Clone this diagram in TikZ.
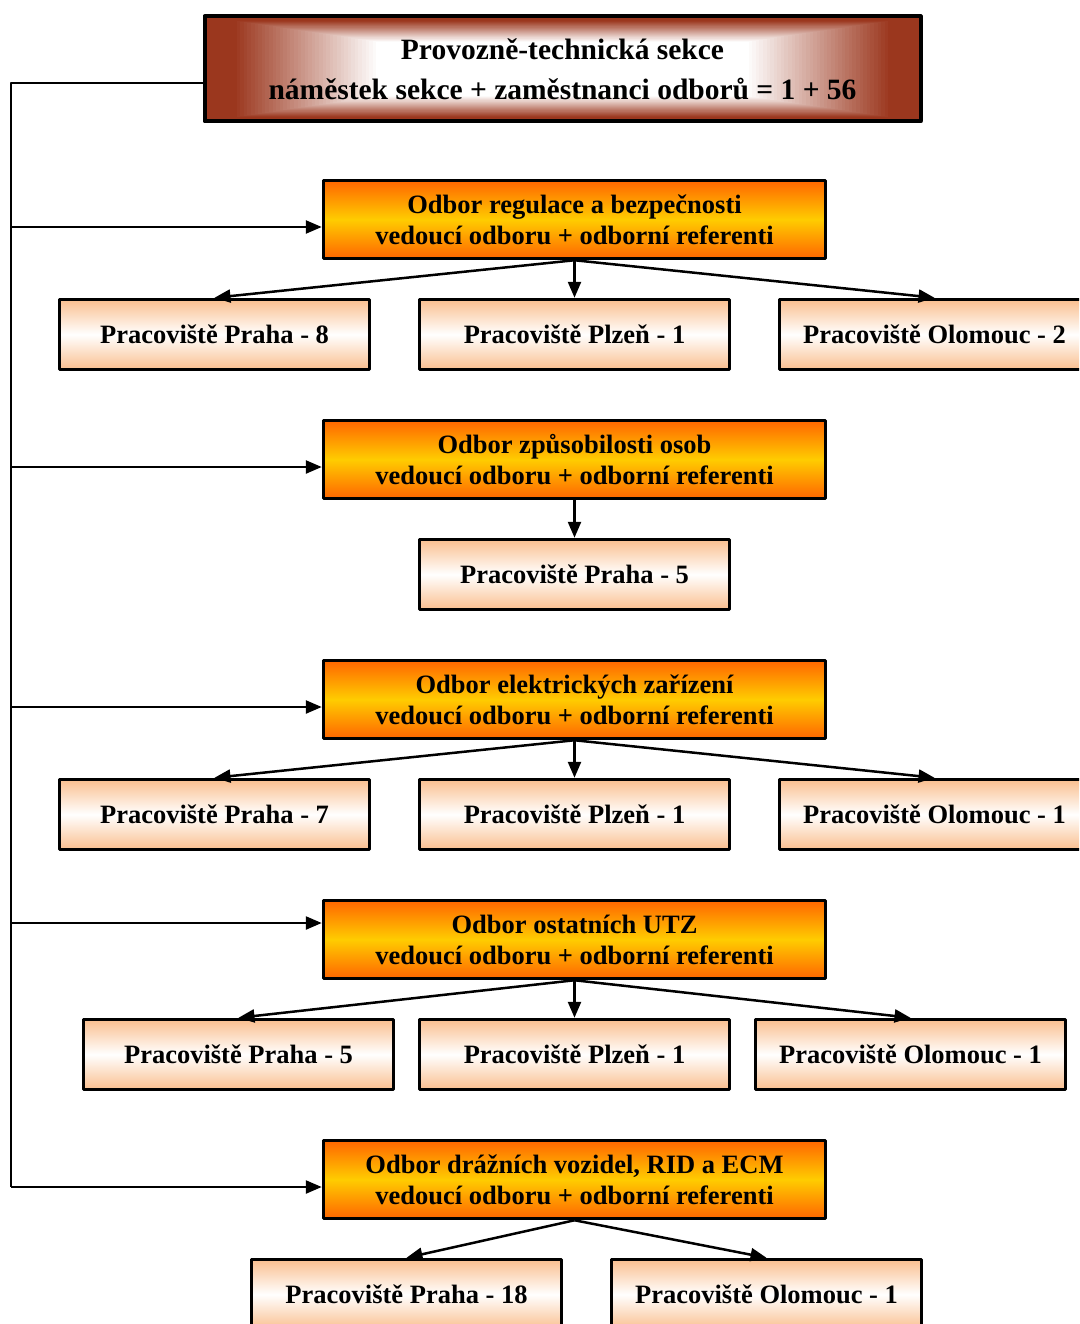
\documentclass[tikz,border=0pt]{standalone}
\usepackage{fontspec}
\setmainfont{Liberation Serif}
\usetikzlibrary{arrows.meta,calc}
\definecolor{hneda}{RGB}{155,55,30}
\definecolor{oranz}{RGB}{255,102,0}
\definecolor{zluta}{RGB}{255,204,0}
\definecolor{broskev}{RGB}{250,191,143}
\begin{document}
\begin{tikzpicture}[x=1pt, y=-1pt, line join=round, >={Triangle[length=16pt,width=13pt]}, font=\bfseries\fontsize{26.5}{31}\selectfont]
	\tikzset{sekce/.style={draw, line width=4pt, fill=white, minimum width=716pt, minimum height=105pt, align=center, font=\bfseries\fontsize{29.5}{31}\selectfont,
			% prechod od stredu k okrajum
			path picture={\foreach \i in {0,...,50}{
					\pgfmathsetmacro\t{1-\i/100}
					\pgfmathsetmacro\s{100*min(1,max(0,(\t-0.52)/0.4))}
					\fill[hneda!\s!white] ($(path picture bounding box.center)!\t!(path picture bounding box.south west)$) rectangle ($(path picture bounding box.center)!\t!(path picture bounding box.north east)$);}}},
		odbor/.style={draw, line width=3.5pt, top color=oranz, bottom color=oranz, middle color=zluta, minimum width=502pt, minimum height=78pt, align=center},
		misto/.style={draw, line width=3.5pt, top color=broskev, bottom color=broskev, middle color=white, minimum width=310pt, minimum height=70pt},
		spoj/.style={line width=2.5pt}}
	\useasboundingbox (0,0) rectangle (1079,1324);
	\clip (0,0) rectangle (1079,1324);
	\node[sekce] (pts) at (562.5,69) {Provozně-technická sekce\\[9pt]náměstek sekce + zaměstnanci odborů = 1 + 56};
	\node[odbor] (o1) at (574.5,219.5) {Odbor regulace a bezpečnosti\\vedoucí odboru + odborní referenti};
	\node[odbor] (o2) at (574.5,459.5) {Odbor způsobilosti osob\\vedoucí odboru + odborní referenti};
	\node[odbor] (o3) at (574.5,699.5) {Odbor elektrických zařízení\\vedoucí odboru + odborní referenti};
	\node[odbor] (o4) at (574.5,939.5) {Odbor ostatních UTZ\\vedoucí odboru + odborní referenti};
	\node[odbor] (o5) at (574.5,1179.5) {Odbor drážních vozidel, RID a ECM\\vedoucí odboru + odborní referenti};
	% pracoviste
	\foreach \p/\x/\y/\t in {a1/214.5/334.5/Praha - 8, a2/574.5/334.5/Plzeň - 1, a3/934.5/334.5/Olomouc - 2,
		b1/574.5/574.5/Praha - 5,
		c1/214.5/814.5/Praha - 7, c2/574.5/814.5/Plzeň - 1, c3/934.5/814.5/Olomouc - 1,
		d1/238.5/1054.5/Praha - 5, d2/574.5/1054.5/Plzeň - 1, d3/910.5/1054.5/Olomouc - 1,
		e1/406.5/1294.5/Praha - 18, e2/766.5/1294.5/Olomouc - 1}
	\node[misto] (\p) at (\x,\y) {Pracoviště \t};
	% kmen vlevo
	\coordinate (t0) at (11,83);
	\foreach \k/\y in {1/227,2/467,3/707,4/923,5/1187}
	\coordinate (k\k) at (11,\y);
	\draw[spoj] (pts.west |- t0) -- (t0) -- (k5);
	\foreach \k in {1,...,5}
	\draw[spoj,->] (k\k) -- (k\k -| o\k.west);
	\foreach \o/\p in {o1/a1,o1/a2,o1/a3,o2/b1,o3/c1,o3/c2,o3/c3,o4/d1,o4/d2,o4/d3,o5/e1,o5/e2}
	\draw[spoj,->] (\o.south) -- (\p.north);
\end{tikzpicture}
\end{document}
